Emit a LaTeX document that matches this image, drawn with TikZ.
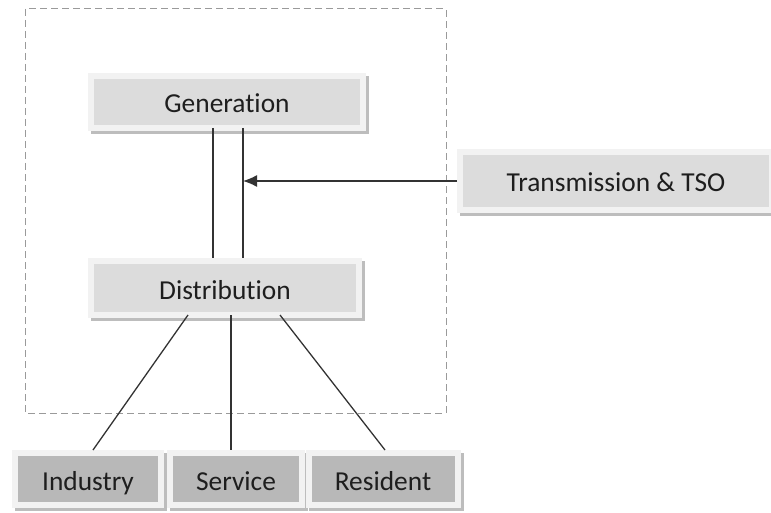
\documentclass[tikz,border=0pt]{standalone}
\usepackage{fontspec}
\setmainfont{Carlito}[Ligatures=NoCommon]
\usetikzlibrary{arrows.meta,backgrounds}

\definecolor{framec}{HTML}{F2F2F2}
\definecolor{shadec}{HTML}{BDBDBD}
\definecolor{topfill}{HTML}{DCDCDC}
\definecolor{lowfill}{HTML}{B8B8B8}
\definecolor{linec}{HTML}{333333}
\definecolor{dashc}{HTML}{9A9A9A}
\definecolor{textc}{HTML}{1E1E1E}

\tikzset{
  box/.style={draw=framec, line width=6bp, fill=topfill, text=textc,
    inner sep=0pt, text height=26bp, text depth=4bp,
    font=\fontsize{27.5}{32}\selectfont},
  lowbox/.style={box, fill=lowfill},
  link/.style={draw=linec, line width=1.3bp},
  boxshadow/.style={fill=shadec},
}

\begin{document}
\begin{tikzpicture}[x=1bp, y=-1bp]
  \useasboundingbox (0,0) rectangle (771,513);

  % system boundary
  \draw[dashc, line width=1bp, dash pattern=on 7bp off 4bp] (25,9) rectangle (446,413);

  % boxes
  \node[box, minimum width=272bp, minimum height=52bp] (gen) at (227,102) {Generation};
  \node[box, minimum width=268bp, minimum height=54bp] (dist) at (225,288) {Distribution};
  \node[box, minimum width=312bp, minimum height=58bp] (trans) at (616,181) {Transmission \& TSO};
  \node[lowbox, minimum width=146bp, minimum height=52bp] (ind) at (88,479) {Industry};
  \node[lowbox, minimum width=132bp, minimum height=52bp] (serv) at (236,479) {Service};
  \node[lowbox, minimum width=149bp, minimum height=52bp] (res) at (383,479) {Resident};

  % soft shadows beneath the boxes
  \begin{scope}[on background layer]
    \foreach \b in {gen,dist,trans,ind,serv,res}
      \fill[boxshadow] ([shift={(3bp,-3bp)}]\b.south west) rectangle ([shift={(3bp,-3bp)}]\b.north east);
  \end{scope}

  % anchor columns for the connectors
  \coordinate (c1) at (213,0);
  \coordinate (c2) at (243,0);
  \coordinate (d1) at (188,0);
  \coordinate (d2) at (231,0);
  \coordinate (d3) at (280,0);
  \coordinate (e1) at (93,0);
  \coordinate (e2) at (231,0);
  \coordinate (e3) at (385,0);

  % generation <-> distribution
  \draw[link] ([yshift=3bp]gen.south -| c1) -- (dist.north -| c1);
  \draw[link] ([yshift=3bp]gen.south -| c2) -- (dist.north -| c2);
  \draw[link, -{Latex[length=14bp, width=12bp]}] (trans.west) -- (trans.west -| c2);

  % distribution to consumers
  \draw[link] ([yshift=3bp]dist.south -| d1) -- (ind.north -| e1);
  \draw[link] ([yshift=3bp]dist.south -| d2) -- (serv.north -| e2);
  \draw[link] ([yshift=3bp]dist.south -| d3) -- (res.north -| e3);
\end{tikzpicture}
\end{document}
